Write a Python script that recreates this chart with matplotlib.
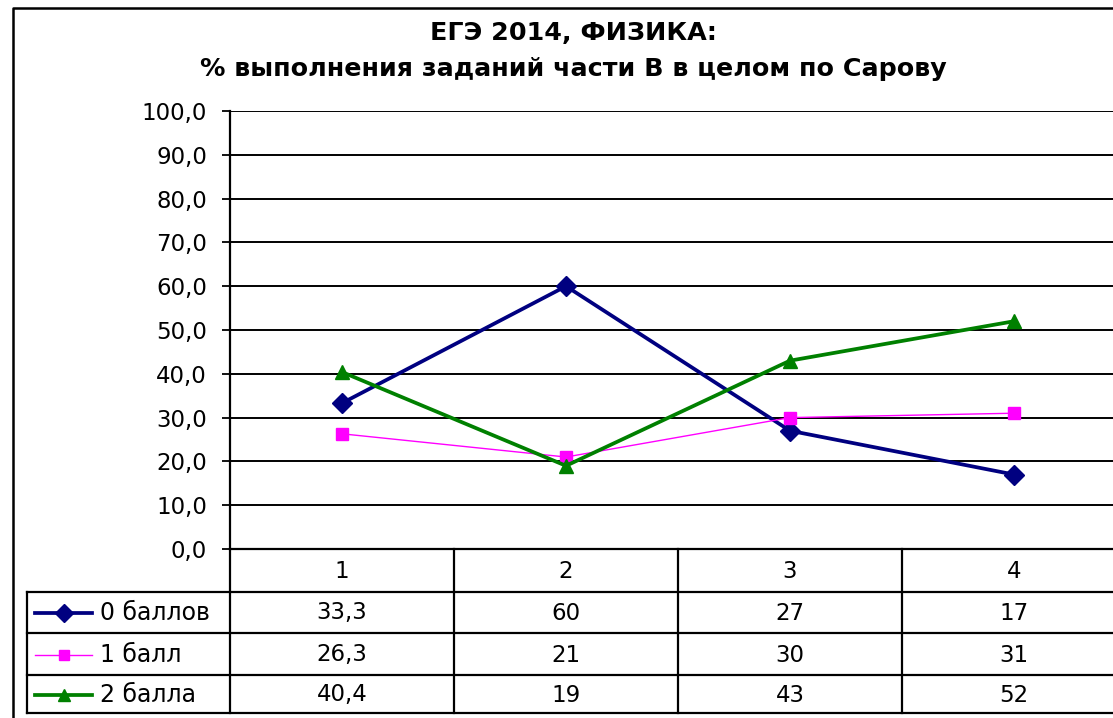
import numpy as np
import matplotlib
matplotlib.use("Agg")
import matplotlib.pyplot as plt
from matplotlib.transforms import blended_transform_factory
from matplotlib.lines import Line2D

plt.rcParams['font.family'] = ['DejaVu Sans']

# data
tasks = [1, 2, 3, 4]
task_labels = ['1', '2', '3', '4']
series_names = ['0 баллов', '1 балл', '2 балла']
pts0 = [33.3, 60, 27, 17]
pts1 = [26.3, 21, 30, 31]
pts2 = [40.4, 19, 43, 52]
pts0_txt = ['33,3', '60', '27', '17']
pts1_txt = ['26,3', '21', '30', '31']
pts2_txt = ['40,4', '19', '43', '52']
yticks = np.arange(0, 101, 10)

W, H = 1113, 718
fig = plt.figure(figsize=(W / 100, H / 100), dpi=100)
FS = 16.5

def fx(x):
	return x / W

def fy(y):
	return 1 - y / H

# plot area in pixels: x 230..1126, y 111..549
ax = fig.add_axes([fx(230), fy(549), fx(1126) - fx(230), (549 - 111) / H])
ax.set_xlim(0.5, 4.5)
ax.set_ylim(0, 100)
ax.set_yticks(yticks)
ax.set_yticklabels([('%.1f' % v).replace('.', ',') for v in yticks], fontsize=FS)
ax.set_xticks([])
ax.tick_params(axis='y', length=6, width=1.3, pad=10.5, color='black')
for s in ['top', 'right', 'bottom']:
	ax.spines[s].set_visible(False)
ax.spines['left'].set_linewidth(1.6)
for v in yticks:
	ax.axhline(v, color='black', lw=1.4, zorder=1)

styles = [
	dict(color='#000080', lw=2.7, marker='D', ms=10),
	dict(color='#FF00FF', lw=1.0, marker='s', ms=8),
	dict(color='#008000', lw=2.7, marker='^', ms=10),
]
for vals, st in zip([pts0, pts1, pts2], styles):
	ax.plot(tasks, vals, color=st['color'], lw=st['lw'], marker=st['marker'],
			ms=st['ms'], mec=st['color'], mfc=st['color'], zorder=3, clip_on=False)

# data table below the axis
tr = blended_transform_factory(ax.transData, fig.transFigure)
rows_y = [549, 592, 633, 675, 713]
lw_t = 1.6
for i, y in enumerate(rows_y):
	if i == 0:
		fig.add_artist(Line2D([fx(230), fx(1126)], [fy(y), fy(y)], color='black', lw=lw_t))
	else:
		fig.add_artist(Line2D([fx(27), fx(1126)], [fy(y), fy(y)], color='black', lw=lw_t))
for b in [0.5, 1.5, 2.5, 3.5]:
	fig.add_artist(Line2D([b, b], [fy(549), fy(713)], color='black', lw=lw_t, transform=tr))
fig.add_artist(Line2D([fx(27), fx(27)], [fy(592), fy(713)], color='black', lw=lw_t))

for t, lab in zip(tasks, task_labels):
	fig.text(t, fy(571), lab, transform=tr, ha='center', va='center', fontsize=FS)
row_centers = [613, 655, 695]
for yc, txts in zip(row_centers, [pts0_txt, pts1_txt, pts2_txt]):
	for t, s in zip(tasks, txts):
		fig.text(t, fy(yc), s, transform=tr, ha='center', va='center', fontsize=FS)

# legend keys inside the table
for yc, name, st in zip(row_centers, series_names, styles):
	fig.add_artist(Line2D([fx(35), fx(92)], [fy(yc), fy(yc)], color=st['color'], lw=st['lw']))
	fig.add_artist(Line2D([fx(63.5)], [fy(yc)], color=st['color'], marker=st['marker'],
						  ms=st['ms'] * 0.9, mec=st['color'], mfc=st['color'], lw=0))
	fig.text(fx(100), fy(yc), name, ha='left', va='center', fontsize=FS + 0.5)

# title
fig.text(fx(573), fy(33), 'ЕГЭ 2014, ФИЗИКА:', ha='center', va='center',
		 fontsize=18.3, fontweight='bold')
fig.text(fx(573), fy(69), '% выполнения заданий части В в целом по Сарову', ha='center',
		 va='center', fontsize=18.3, fontweight='bold')

# outer chart border (right and bottom edges fall outside the picture)
fig.add_artist(Line2D([fx(12.5), fx(12.5), fx(1113)], [fy(718), fy(7.5), fy(7.5)],
					  color='black', lw=1.8))

fig.savefig('out.png', dpi=100)
